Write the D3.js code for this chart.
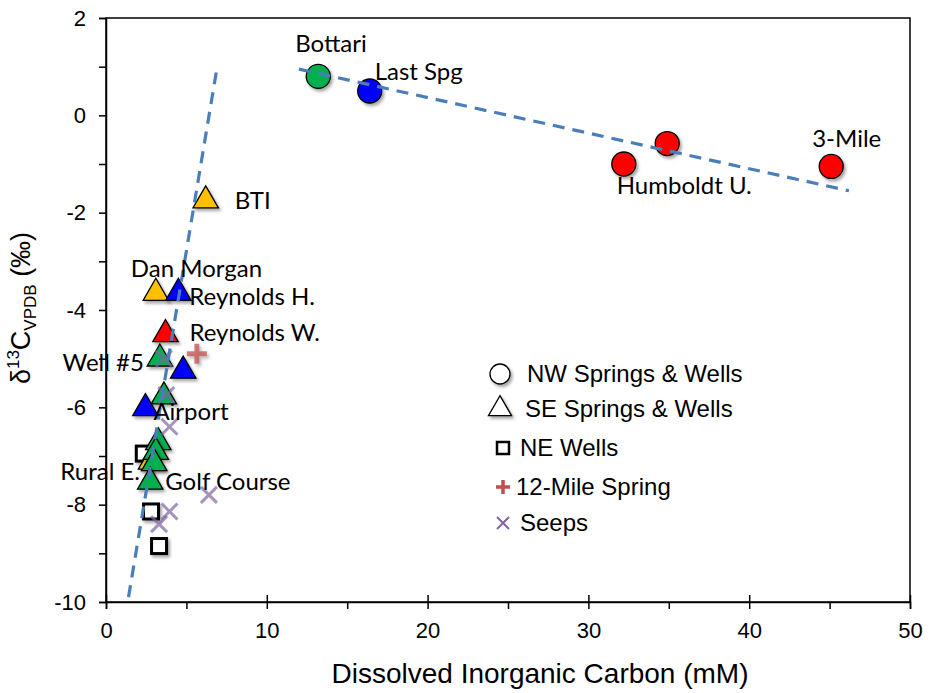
<!DOCTYPE html>
<html>
<head>
<meta charset="utf-8">
<script src="https://cdn.jsdelivr.net/npm/d3@7"></script>
<style>
  body { margin: 0; background: #fff; }
  svg { display: block; }
  .axis text { font-family: "Liberation Sans", Arial, sans-serif; font-size: 22px; fill: #000; }
  .axis path, .axis line { stroke: #000; stroke-width: 1.5; }
  .lbl { font-family: Lato, "Open Sans", sans-serif; font-size: 24px; fill: #000; }
  .leg { font-family: "Liberation Sans", Arial, sans-serif; font-size: 24px; fill: #000; }
</style>
</head>
<body>
<svg width="929" height="693"></svg>
<script>
// NW springs & wells (circles)
const nwName = ["Bottari", "Last Spg", "Humboldt U.", "", "3-Mile"];
const nwDic  = [13.2, 16.4, 32.2, 34.9, 45.1];
const nwD13c = [0.8, 0.5, -1.0, -0.58, -1.05];
const nwGrp  = ["g", "b", "r", "r", "r"];

// SE springs & wells (triangles)
const seName = ["BTI", "Dan Morgan", "Reynolds H.", "Reynolds W.", "Well #5", "", "", "Airport", "", "", "Rural E.", "", "Golf Course"];
const seDic  = [6.2, 3.1, 4.5, 3.7, 3.35, 4.8, 3.6, 2.45, 3.25, 3.1, 2.8, 3.0, 2.75];
const seD13c = [-1.75, -3.65, -3.65, -4.5, -5.0, -5.25, -5.78, -6.02, -6.72, -6.92, -7.12, -7.15, -7.53];
const seGrp  = ["y", "y", "b", "r", "g", "b", "g", "b", "g", "g", "y", "g", "g"];

// NE wells (squares)
const neDic  = [2.35, 2.8, 3.3];
const neD13c = [-6.95, -8.14, -8.85];

// 12-Mile spring (plus)
const mileDic  = [5.65];
const mileD13c = [-4.9];

// Seeps (x)
const seepDic  = [3.6, 3.75, 3.95, 6.4, 3.95, 3.3];
const seepD13c = [-5.0, -5.75, -6.4, -7.8, -8.14, -8.4];

// trend lines (end points)
const trendSteep   = [[1.4, -9.9], [6.9, 0.97]];
const trendShallow = [[12.0, 0.95], [46.2, -1.55]];

const xTicks = [0, 10, 20, 30, 40, 50];
const yTicks = [-10, -8, -6, -4, -2, 0, 2];

const svg = d3.select("svg");
const margin = {left: 106, top: 18, right: 19, bottom: 91};
const W = 929 - margin.left - margin.right;
const H = 693 - margin.top - margin.bottom;

const x = d3.scaleLinear().domain([0, 50]).range([0, W]);
const y = d3.scaleLinear().domain([-10, 2]).range([H, 0]);
const color = d3.scaleOrdinal()
  .domain(["g", "b", "r", "y"])
  .range(["#00b050", "#0000ff", "#ff0000", "#ffc000"]);

// shadow like the spreadsheet markers
const defs = svg.append("defs");
const f = defs.append("filter").attr("id", "shadow")
  .attr("x", "-50%").attr("y", "-50%").attr("width", "200%").attr("height", "200%");
f.append("feDropShadow").attr("dx", 2).attr("dy", 2.5).attr("stdDeviation", 1.6)
  .attr("flood-color", "#000").attr("flood-opacity", 0.35);

const g = svg.append("g").attr("transform", `translate(${margin.left},${margin.top})`);

// frame
g.append("rect").attr("width", W).attr("height", H)
  .attr("fill", "none").attr("stroke", "#000").attr("stroke-width", 1.5);

// axes: major ticks + minor ticks (plain hyphen for negatives)
const fmt = d => String(d);
const xAxis = g.append("g").attr("class", "axis").attr("transform", `translate(0,${H})`)
  .call(d3.axisBottom(x).tickValues(xTicks).tickSize(7).tickPadding(13).tickFormat(fmt));
xAxis.selectAll(".tick line").attr("y1", -7);
g.append("g").attr("class", "axis").attr("transform", `translate(0,${H})`)
  .call(d3.axisBottom(x).tickValues(d3.range(5, 50, 10)).tickSize(7).tickFormat(""))
  .select(".domain").remove();

const yAxis = g.append("g").attr("class", "axis")
  .call(d3.axisLeft(y).tickValues(yTicks).tickSize(7).tickPadding(13).tickFormat(fmt));
g.append("g").attr("class", "axis")
  .call(d3.axisLeft(y).tickValues(d3.range(-9, 2, 2)).tickSize(7).tickFormat(""))
  .select(".domain").remove();

// axis titles
svg.append("text").attr("class", "leg")
  .attr("x", 540).attr("y", 683)
  .attr("text-anchor", "middle").style("font-size", "28px")
  .text("Dissolved Inorganic Carbon (mM)");

const yt = svg.append("text").attr("class", "leg")
  .attr("transform", `translate(30,308) rotate(-90)`)
  .attr("text-anchor", "middle").style("font-size", "27px");
yt.append("tspan").text("\u03b4");
yt.append("tspan").attr("dy", -11).style("font-size", "17px").text("13");
yt.append("tspan").attr("dy", 11).text("C");
yt.append("tspan").attr("dy", 6).style("font-size", "17px").text("VPDB");
yt.append("tspan").attr("dy", -6).text(" (\u2030)");

// label placement (pixel offset from the point, anchor)
const labelOff = {
  "Bottari": [-23, -24, "start"], "Last Spg": [5, -11, "start"], "Humboldt U.": [-7, 30, "start"],
  "3-Mile": [-19, -19, "start"], "BTI": [29, 8, "start"], "Dan Morgan": [-25, -16, "start"],
  "Reynolds H.": [11, 12, "start"], "Reynolds W.": [24, 7, "start"], "Well #5": [-16, 12, "end"],
  "Airport": [8, 12, "start"], "Rural E.": [-11, 18, "end"], "Golf Course": [15, 8, "start"]
};

const pts = g.append("g");

// NE squares
pts.selectAll(".ne").data(d3.range(neDic.length)).join("rect")
  .attr("x", i => x(neDic[i]) - 7.5).attr("y", i => y(neD13c[i]) - 7.5)
  .attr("width", 15).attr("height", 15)
  .attr("fill", "#fff").attr("stroke", "#000").attr("stroke-width", 3)
  .attr("filter", "url(#shadow)");

// SE triangles
const tri = d3.symbol().type(d3.symbolTriangle).size(280);
const seOrder = [10, 0, 1, 2, 3, 4, 5, 6, 7, 8, 9, 11, 12];
pts.selectAll(".se").data(seOrder).join("path")
  .attr("d", tri)
  .attr("transform", i => `translate(${x(seDic[i])},${y(seD13c[i])})`)
  .attr("fill", i => color(seGrp[i])).attr("stroke", "#000").attr("stroke-width", 1.3)
  .attr("filter", "url(#shadow)");

// NW circles
pts.selectAll(".nw").data(d3.range(nwDic.length)).join("circle")
  .attr("cx", i => x(nwDic[i])).attr("cy", i => y(nwD13c[i])).attr("r", 12)
  .attr("fill", i => color(nwGrp[i])).attr("stroke", "#000").attr("stroke-width", 1.3)
  .attr("filter", "url(#shadow)");

// 12-Mile plus
pts.selectAll(".mile").data(d3.range(mileDic.length)).join("path")
  .attr("d", d3.line()([[-10, 0], [10, 0]]) + d3.line()([[0, -10], [0, 10]]))
  .attr("transform", i => `translate(${x(mileDic[i])},${y(mileD13c[i])})`)
  .attr("stroke", "#c0504d").attr("stroke-opacity", 0.75).attr("stroke-width", 5)
  .attr("fill", "none").attr("filter", "url(#shadow)");

// seeps x
pts.selectAll(".seep").data(d3.range(seepDic.length)).join("path")
  .attr("d", d3.line()([[-8, -8], [8, 8]]) + d3.line()([[-8, 8], [8, -8]]))
  .attr("transform", i => `translate(${x(seepDic[i])},${y(seepD13c[i])})`)
  .attr("stroke", "#8064a2").attr("stroke-opacity", 0.7).attr("stroke-width", 3)
  .attr("fill", "none");

// trend lines
const line = d3.line().x(d => x(d[0])).y(d => y(d[1]));
[trendSteep, trendShallow].forEach(t => {
  g.append("path").attr("d", line(t))
    .attr("fill", "none").attr("stroke", "#4a7ebb").attr("stroke-width", 3.2)
    .attr("stroke-dasharray", "12,8");
});

// point labels
const labs = [];
nwName.forEach((n, i) => { if (n) labs.push([n, nwDic[i], nwD13c[i]]); });
seName.forEach((n, i) => { if (n) labs.push([n, seDic[i], seD13c[i]]); });
g.selectAll(".lbl").data(labs).join("text").attr("class", "lbl")
  .attr("x", d => x(d[1]) + labelOff[d[0]][0])
  .attr("y", d => y(d[2]) + labelOff[d[0]][1])
  .attr("text-anchor", d => labelOff[d[0]][2])
  .text(d => d[0]);

// legend
const legNames = ["NW Springs & Wells", "SE Springs & Wells", "NE Wells", "12-Mile Spring", "Seeps"];
const legY = [374, 409, 448, 487, 523];
const legTx = [527, 525, 520, 516, 520];
const lg = svg.append("g");
lg.append("circle").attr("cx", 500).attr("cy", legY[0]).attr("r", 10)
  .attr("fill", "#fff").attr("stroke", "#000").attr("stroke-width", 1.3).attr("filter", "url(#shadow)");
lg.append("path").attr("d", d3.symbol().type(d3.symbolTriangle).size(230))
  .attr("transform", `translate(500,${legY[1]})`)
  .attr("fill", "#fff").attr("stroke", "#000").attr("stroke-width", 1.3).attr("filter", "url(#shadow)");
lg.append("rect").attr("x", 497).attr("y", legY[2] - 6).attr("width", 12).attr("height", 12)
  .attr("fill", "#fff").attr("stroke", "#000").attr("stroke-width", 2.5);
lg.append("path").attr("d", "M496,0H510M503,-7V7")
  .attr("transform", `translate(0,${legY[3]})`)
  .attr("stroke", "#c0504d").attr("stroke-width", 3.5);
lg.append("path").attr("d", "M497,-6L509,6M497,6L509,-6")
  .attr("transform", `translate(0,${legY[4]})`)
  .attr("stroke", "#8064a2").attr("stroke-width", 2);
lg.selectAll("text").data(legNames).join("text").attr("class", "leg")
  .attr("x", (d, i) => legTx[i]).attr("y", (d, i) => legY[i] + 8)
  .text(d => d);
</script>
</body>
</html>
